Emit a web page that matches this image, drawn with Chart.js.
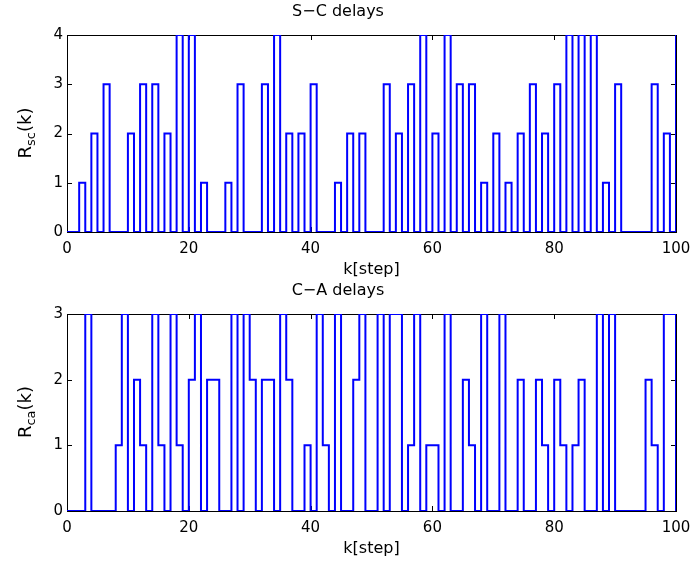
<!DOCTYPE html>
<html>
<head>
<meta charset="utf-8">
<script src="https://cdn.jsdelivr.net/npm/chart.js@4.4.0/dist/chart.umd.min.js"></script>
<style>
  body { margin: 0; background: #fff; }
  #wrap { position: relative; width: 691px; height: 563px; }
  canvas { position: absolute; left: 0; }
  #c1 { top: 0; }
  #c2 { top: 279px; }
  .ylab {
    position: absolute;
    font-family: "DejaVu Sans", sans-serif;
    font-size: 18px;
    color: #000;
    white-space: nowrap;
    transform: translate(-50%, -50%) rotate(-90deg);
  }
  .ylab sub { font-size: 0.72em; }
</style>
</head>
<body>
<div id="wrap">
  <canvas id="c1" width="691" height="282"></canvas>
  <canvas id="c2" width="691" height="284"></canvas>
  <div class="ylab" style="left:26px; top:133px">R<sub>sc</sub>(k)</div>
  <div class="ylab" style="left:26px; top:412px">R<sub>ca</sub>(k)</div>
</div>
<script>
// k axis (steps)
var kSteps = [0, 1, 2, 3, 4, 5, 6, 7, 8, 9, 10, 11, 12, 13, 14, 15, 16, 17, 18, 19,
  20, 21, 22, 23, 24, 25, 26, 27, 28, 29, 30, 31, 32, 33, 34, 35, 36, 37, 38, 39,
  40, 41, 42, 43, 44, 45, 46, 47, 48, 49, 50, 51, 52, 53, 54, 55, 56, 57, 58, 59,
  60, 61, 62, 63, 64, 65, 66, 67, 68, 69, 70, 71, 72, 73, 74, 75, 76, 77, 78, 79,
  80, 81, 82, 83, 84, 85, 86, 87, 88, 89, 90, 91, 92, 93, 94, 95, 96, 97, 98, 99, 100];

// S-C delays
var rsc = [0, 0, 1, 0, 2, 0, 3, 0, 0, 0, 2, 0, 3, 0, 3, 0, 2, 0, 4, 0,
  4, 0, 1, 0, 0, 0, 1, 0, 3, 0, 0, 0, 3, 0, 4, 0, 2, 0, 2, 0,
  3, 0, 0, 0, 1, 0, 2, 0, 2, 0, 0, 0, 3, 0, 2, 0, 3, 0, 4, 0,
  2, 0, 4, 0, 3, 0, 3, 0, 1, 0, 2, 0, 1, 0, 2, 0, 3, 0, 2, 0,
  3, 0, 4, 0, 4, 0, 4, 0, 1, 0, 3, 0, 0, 0, 0, 0, 3, 0, 2, 0, 4];

// C-A delays
var rca = [0, 0, 0, 3, 0, 0, 0, 0, 1, 3, 0, 2, 1, 0, 3, 1, 0, 3, 1, 0,
  2, 3, 0, 2, 2, 0, 0, 3, 0, 3, 2, 0, 2, 2, 0, 3, 2, 0, 0, 1,
  0, 3, 1, 0, 3, 0, 0, 2, 3, 0, 0, 3, 0, 3, 3, 0, 1, 3, 0, 1,
  1, 0, 3, 0, 0, 2, 1, 0, 3, 0, 0, 3, 0, 0, 2, 0, 0, 2, 1, 0,
  2, 1, 0, 1, 2, 0, 0, 3, 0, 3, 0, 0, 0, 0, 0, 2, 1, 0, 3, 3, 0];

var xTicks = [0, 20, 40, 60, 80, 100];
var yTicksSC = [0, 1, 2, 3, 4];
var yTicksCA = [0, 1, 2, 3];

var FONT = "DejaVu Sans";

function toPoints(vals) {
  var pts = [];
  for (var i = 0; i < kSteps.length; i++) {
    pts.push({ x: kSteps[i], y: vals[i] });
  }
  return pts;
}

// box + inward ticks like matlab axes
var boxPlugin = {
  id: "box",
  beforeDatasetsDraw: function(chart) {
    var ctx = chart.ctx;
    var a = chart.chartArea;
    var xs = chart.scales.x;
    var ys = chart.scales.y;
    var len = 5;
    ctx.save();
    ctx.strokeStyle = "#000";
    ctx.lineWidth = 1;
    ctx.strokeRect(Math.round(a.left) + 0.5, Math.round(a.top) + 0.5,
      Math.round(a.right - a.left), Math.round(a.bottom - a.top));
    ctx.beginPath();
    xs.ticks.forEach(function(t) {
      var px = Math.round(xs.getPixelForValue(t.value)) + 0.5;
      ctx.moveTo(px, a.bottom);
      ctx.lineTo(px, a.bottom - len);
      ctx.moveTo(px, a.top);
      ctx.lineTo(px, a.top + len);
    });
    ys.ticks.forEach(function(t) {
      var py = Math.round(ys.getPixelForValue(t.value)) + 0.5;
      ctx.moveTo(a.left, py);
      ctx.lineTo(a.left + len, py);
      ctx.moveTo(a.right, py);
      ctx.lineTo(a.right - len, py);
    });
    ctx.stroke();
    ctx.restore();
  }
};

function makeChart(id, title, vals, yTicks, bottomPad) {
  var yMax = yTicks[yTicks.length - 1];
  return new Chart(document.getElementById(id), {
    type: "line",
    data: {
      datasets: [{
        data: toPoints(vals),
        borderColor: "#0000ff",
        borderWidth: 2,
        pointRadius: 0,
        stepped: "before",
        fill: false,
        tension: 0
      }]
    },
    options: {
      responsive: false,
      animation: false,
      layout: { padding: { left: 0, right: 15, top: 0, bottom: 0 } },
      plugins: {
        legend: { display: false },
        tooltip: { enabled: false },
        title: {
          display: true,
          text: title,
          color: "#000",
          font: { family: FONT, size: 16, weight: "normal", lineHeight: 1.2 },
          padding: { top: 2, bottom: 13.8 }
        }
      },
      scales: {
        x: {
          type: "linear",
          min: 0,
          max: 100,
          afterBuildTicks: function(s) {
            s.ticks = xTicks.map(function(v) { return { value: v }; });
          },
          ticks: { color: "#000", font: { family: FONT, size: 15 }, padding: 8.5, maxRotation: 0 },
          grid: { display: false, drawTicks: false },
          border: { display: false },
          title: {
            display: true,
            text: "k[step]",
            color: "#000",
            font: { family: FONT, size: 16, lineHeight: 1.2 },
            padding: { top: 0, bottom: bottomPad }
          },
          afterFit: function(s) {
            s.height = s.chart.height - 35 - 197;
            s.paddingLeft = 0;
            s.paddingRight = 0;
          }
        },
        y: {
          min: 0,
          max: yMax,
          afterBuildTicks: function(s) {
            s.ticks = yTicks.map(function(v) { return { value: v }; });
          },
          ticks: { color: "#000", font: { family: FONT, size: 15 }, padding: 4 },
          grid: { display: false, drawTicks: false },
          border: { display: false },
          afterFit: function(s) {
            s.width = 67;
            s.paddingTop = 0;
            s.paddingBottom = 0;
          }
        }
      }
    },
    plugins: [boxPlugin]
  });
}

makeChart("c1", "S\u2212C delays", rsc, yTicksSC, 2.4);
makeChart("c2", "C\u2212A delays", rca, yTicksCA, 4.4);
</script>
</body>
</html>
